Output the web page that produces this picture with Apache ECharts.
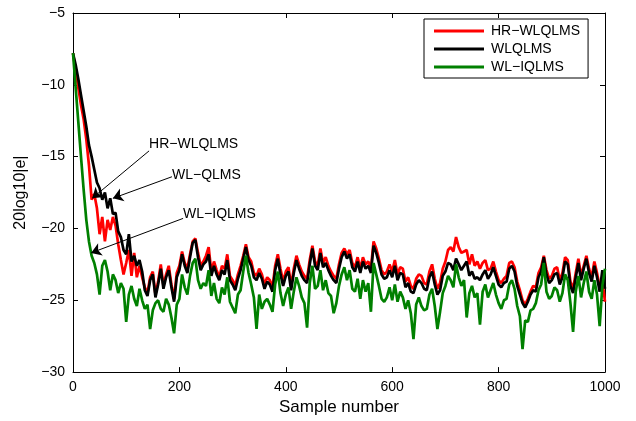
<!DOCTYPE html>
<html>
<head>
<meta charset="utf-8">
<script src="https://cdn.jsdelivr.net/npm/echarts@6/dist/echarts.min.js"></script>
<style>
  html, body { margin: 0; padding: 0; background: #fff; }
  #chart { width: 636px; height: 421px; }
</style>
</head>
<body>
<div id="chart"></div>
<script>
// one value every STEP samples, sample 0..1000
const STEP = 5;
const seriesNames = ['HR\u2212WLQLMS', 'WLQLMS', 'WL\u2212IQLMS'];
const seriesColors = ['#ff0000', '#000000', '#008000'];

const hrWlqlms = [
  -7.8, -9.0, -10.2, -11.4, -12.4, -13.8, -15.6, -18.0, -17.6, -18.6,
  -20.4, -19.2, -20.9, -19.4, -20.1, -19.2, -19.8, -21.1, -22.2, -23.2,
  -22.4, -21.5, -23.3, -21.7, -23.4, -22.6,
  -23.4, -24.1, -24.5, -23.4, -23.0, -24.6, -23.7, -22.5, -24.0, -23.2,
  -22.6, -23.9, -24.9, -23.1, -22.6, -21.6, -22.4, -22.8, -21.8, -20.9,
  -20.7, -21.7, -22.6, -22.3, -21.9, -21.3, -23.0, -22.3, -22.9, -23.4,
  -22.6, -22.8, -21.8, -23.3, -23.6, -24.0, -23.2, -22.6, -21.9, -21.1,
  -22.0, -22.3, -23.1, -23.3, -22.8, -23.2, -23.9, -23.4, -23.6, -24.1,
  -22.6, -21.8, -22.8, -23.7, -23.0, -22.7, -24.0, -22.8, -21.9, -22.5,
  -23.0, -23.3, -23.5, -22.2, -21.2, -22.3, -22.6, -21.4, -22.4, -22.0,
  -22.6, -23.0, -23.3, -23.5, -22.5, -21.7, -21.4, -21.8, -21.5, -22.4,
  -22.7, -22.0, -22.8, -22.0, -22.5, -22.3, -22.8, -20.9, -21.4, -22.1,
  -22.9, -23.2, -23.0, -22.5, -23.0, -22.2, -23.2, -22.7, -22.8, -23.7,
  -23.4, -24.0, -24.2, -23.5, -23.2, -23.3, -23.8, -23.9, -23.0, -22.5,
  -23.5, -24.2, -23.8, -22.8, -22.3, -21.5, -21.3, -21.6, -20.6, -21.3,
  -21.7, -21.6, -21.5, -22.5, -21.8, -22.6, -22.3, -22.8, -22.4, -22.2,
  -22.9, -22.8, -22.3, -23.0, -23.6, -23.8, -23.5, -23.3, -22.4, -22.3,
  -22.7, -23.7, -24.3, -25.0, -25.3, -24.9, -24.4, -24.0, -24.1, -23.1,
  -22.7, -21.9, -22.9, -23.5, -23.3, -22.8, -22.7, -23.6, -23.1, -22.0,
  -22.2, -23.7, -24.2, -23.1, -22.1, -23.3, -22.6, -21.9, -22.8, -23.4,
  -22.3, -23.1, -24.1, -23.6, -25.1
];

const wlqlms = [
  -7.8, -8.6, -9.6, -10.7, -11.8, -12.9, -14.2, -15.0, -15.9, -16.8,
  -17.2, -18.0, -17.5, -18.6, -17.9, -19.0, -18.9, -20.2, -20.6, -21.5,
  -21.8, -20.4, -22.3, -21.9, -22.6, -22.2, -23.0, -24.3, -24.7, -23.6,
  -23.2, -24.8, -23.9, -22.8, -24.2, -23.4, -22.9, -24.1, -25.1, -23.4,
  -22.9, -21.8, -22.6, -23.1, -22.0, -21.0, -20.8, -22.0, -22.9, -22.5,
  -22.3, -21.8, -23.3, -22.6, -23.2, -23.6, -22.9, -23.2, -22.2, -23.6,
  -23.9, -24.3, -23.5, -22.9, -22.1, -21.3, -22.2, -22.6, -23.4, -23.6,
  -23.1, -23.5, -24.2, -23.7, -23.9, -24.4, -22.9, -22.1, -23.2, -24.0,
  -23.3, -23.0, -24.3, -23.1, -22.2, -22.8, -23.3, -23.6, -23.8, -22.5,
  -21.4, -22.6, -22.9, -21.7, -22.7, -22.4, -22.9, -23.3, -23.6, -23.8,
  -22.8, -22.0, -21.6, -22.1, -21.8, -22.7, -23.0, -22.3, -23.1, -22.3,
  -22.8, -22.6, -23.1, -21.2, -21.7, -22.4, -23.2, -23.5, -23.4, -22.9,
  -23.4, -22.6, -23.6, -23.1, -23.2, -24.1, -23.8, -24.4, -24.5, -23.9,
  -23.6, -23.8, -24.2, -24.3, -23.4, -23.0, -23.9, -24.6, -24.3, -23.3,
  -23.0, -22.4, -22.5, -22.9, -22.1, -22.5, -22.9, -22.6, -22.3, -23.3,
  -23.0, -23.5, -23.4, -23.6, -23.2, -22.9, -23.5, -23.2, -22.7, -23.3,
  -23.9, -24.1, -23.8, -23.7, -22.8, -22.6, -23.0, -24.0, -24.6, -25.2,
  -25.5, -25.1, -24.6, -24.3, -24.4, -23.4, -23.0, -22.0, -23.2, -23.8,
  -23.6, -23.2, -23.1, -23.9, -23.4, -22.3, -22.5, -24.0, -24.5, -23.4,
  -22.4, -23.6, -22.8, -22.1, -23.1, -23.7, -22.6, -23.4, -24.4, -22.9,
  -24.2
];

const wlIqlms = [
  -7.8, -10.2, -12.6, -15.0, -17.3, -19.4, -20.9, -21.9, -22.4, -23.2,
  -24.6, -22.6, -22.2, -23.0, -24.3, -23.2, -23.6, -24.5, -23.8, -24.2,
  -26.5, -24.6, -24.0, -24.9, -25.4, -24.2, -25.0, -25.6, -25.3, -27.0,
  -25.7, -25.2, -25.0, -25.6, -25.8, -24.9, -25.3, -26.2, -27.3, -25.3,
  -24.9, -23.2, -24.1, -24.6, -23.3, -22.4, -22.1, -23.6, -24.2, -23.8,
  -24.0, -22.9, -24.7, -23.8, -24.9, -25.2, -24.1, -24.6, -23.4, -25.1,
  -25.5, -25.9, -24.6, -24.3, -23.0, -21.9, -23.1, -23.9, -24.8, -27.0,
  -24.6, -25.6, -25.1, -24.9, -25.3, -25.8, -23.9, -23.0, -24.5, -25.4,
  -24.6, -24.1, -25.6, -24.4, -23.4, -24.0, -24.8, -25.2, -26.9, -23.8,
  -22.6, -24.2, -24.0, -22.9, -24.3, -23.6, -24.5, -24.7, -25.9, -25.2,
  -24.0, -23.2, -22.7, -23.6, -22.9, -24.2, -24.4, -23.5, -24.9, -23.6,
  -24.4, -23.8, -25.8, -22.4, -23.2, -24.0, -24.9, -25.1, -24.8, -24.1,
  -25.0, -23.9, -25.1, -24.4, -24.8, -25.6, -25.0, -25.9, -27.7, -25.3,
  -24.8, -25.4, -25.7, -25.6, -24.6, -24.2, -25.4, -27.0, -25.8, -24.5,
  -24.0, -23.3, -23.6, -24.1, -22.5, -23.4, -24.0, -23.6, -26.2, -24.5,
  -24.0, -24.8, -24.5, -26.7, -24.4, -23.9, -24.8, -24.3, -23.8, -24.6,
  -25.2, -25.6, -25.0, -24.9, -23.9, -23.6, -24.2, -25.4, -26.1, -28.4,
  -26.4, -26.5, -25.7, -25.6, -25.2, -24.3, -23.9, -22.4, -24.4, -24.9,
  -24.7, -24.1, -24.3, -25.1, -24.5, -23.2, -23.6, -25.2, -27.2, -24.4,
  -23.3, -24.8, -23.8, -23.0, -24.4, -24.9, -23.6, -24.6, -26.8, -24.0,
  -22.8
];

// annotation text anchor [sample, dB] and arrow [from, to]
const notes = [
  { text: 'HR\u2212WLQLMS', at: [143, -14.1], from: [143, -14.6], to: [36, -17.9] },
  { text: 'WL\u2212QLMS', at: [186, -16.3], from: [186, -16.4], to: [75, -17.9] },
  { text: 'WL\u2212IQLMS', at: [207, -19.0], from: [207, -19.3], to: [34, -21.7] }
];

function pairs(arr) {
  return arr.map((v, i) => [i * STEP, v]);
}

const minus = v => String(v).replace('-', '\u2212');
const font = 'Liberation Sans, Arial, sans-serif';

const chart = echarts.init(document.getElementById('chart'));

const allData = [hrWlqlms, wlqlms, wlIqlms];
const series = allData.map((d, k) => ({
  name: seriesNames[k],
  type: 'line',
  data: pairs(d),
  symbol: 'none',
  lineStyle: { color: seriesColors[k], width: 2.7 },
  itemStyle: { color: seriesColors[k] },
  z: 2 + k,
  animation: false
}));

// arrows drawn on their own empty series so they sit above the lines
series.push({
  name: 'notes',
  type: 'line',
  data: [],
  z: 10,
  markLine: {
    silent: true,
    symbol: ['none', 'arrow'],
    symbolSize: 10,
    label: { show: false },
    itemStyle: { color: '#000' },
    lineStyle: { color: '#000', width: 1, type: 'solid' },
    data: notes.map(n => [{ coord: n.from }, { coord: n.to }]),
    animation: false
  },
  markPoint: {
    silent: true,
    symbol: 'circle',
    symbolSize: 0,
    label: {
      show: true,
      position: 'right',
      distance: 0,
      color: '#000',
      fontSize: 14,
      fontFamily: font,
      formatter: p => p.name
    },
    data: notes.map(n => ({ name: n.text, coord: n.at })),
    animation: false
  }
});

const axisCommon = {
  type: 'value',
  axisLine: { show: true, onZero: false, lineStyle: { color: '#000', width: 1 } },
  axisTick: { show: true, inside: true, length: 5, lineStyle: { color: '#000' } },
  splitLine: { show: false }
};

chart.setOption({
  animation: false,
  backgroundColor: '#fff',
  grid: { left: 73, right: 31, top: 13, bottom: 41, show: false },
  legend: {
    data: seriesNames,
    orient: 'vertical',
    left: 424,
    top: 19,
    width: 173,
    padding: [5, 8, 4, 10],
    itemGap: 4,
    itemWidth: 50,
    itemHeight: 3,
    icon: 'rect',
    backgroundColor: '#fff',
    borderColor: '#000',
    borderWidth: 1,
    textStyle: { color: '#000', fontSize: 14, fontFamily: font, padding: [0, 0, 0, 2] }
  },
  xAxis: [
    Object.assign({}, axisCommon, {
      min: 0, max: 1000, interval: 200,
      name: 'Sample number',
      nameLocation: 'middle',
      nameGap: 22,
      nameTextStyle: { color: '#000', fontSize: 17, fontFamily: font },
      axisLabel: { color: '#000', fontSize: 14, fontFamily: font, margin: 8, formatter: minus }
    }),
    Object.assign({}, axisCommon, {
      position: 'top', min: 0, max: 1000, interval: 200,
      axisLabel: { show: false }
    })
  ],
  yAxis: [
    Object.assign({}, axisCommon, {
      min: -30, max: -5, interval: 5,
      name: '20log10|e|',
      nameLocation: 'middle',
      nameGap: 44,
      nameTextStyle: { color: '#000', fontSize: 16, fontFamily: font },
      axisLabel: { color: '#000', fontSize: 14, fontFamily: font, margin: 8, formatter: minus }
    }),
    Object.assign({}, axisCommon, {
      position: 'right', min: -30, max: -5, interval: 5,
      axisLabel: { show: false }
    })
  ],
  series: series
});
</script>
</body>
</html>
